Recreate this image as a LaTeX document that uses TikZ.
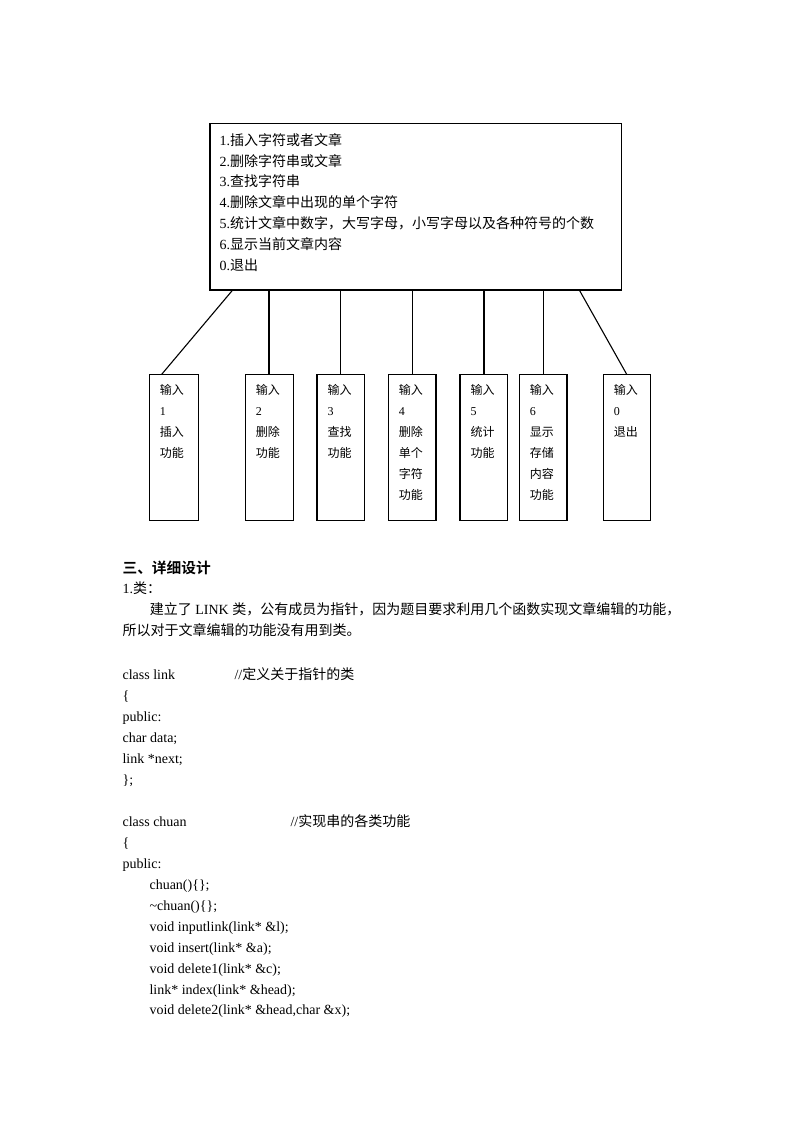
\documentclass[tikz,border=0pt]{standalone}
\usepackage{fontspec}
\setmainfont{Liberation Serif}
\newfontfamily\cjk{Noto Sans CJK SC}[BoldFont={Noto Sans CJK SC Bold}]
\begin{document}
\begin{tikzpicture}[x=1pt,y=-1pt,
  line width=1.1pt,
  menutext/.style={anchor=base west,inner sep=0,font=\fontsize{14}{16}\selectfont},
  boxtext/.style={anchor=base west,inner sep=0,font=\fontsize{12}{14}\selectfont},
  bodytext/.style={anchor=base west,inner sep=0,font=\fontsize{14}{16}\selectfont},
  funcbox/.style={draw,anchor=north west,inner sep=0,outer sep=0,minimum height=146.4pt}]
\fill[white] (0,0) rectangle (800,1132);
\useasboundingbox (0,0) rectangle (800,1132);

% menu box
\node[draw,anchor=north west,inner sep=0,outer sep=0,minimum width=411.7pt,minimum height=166.7pt] (menu) at (210,123.3) {};
\foreach \t [count=\i] in {
  {1.{\cjk 插入字符或者文章}},
  {2.{\cjk 删除字符串或文章}},
  {3.{\cjk 查找字符串}},
  {4.{\cjk 删除文章中出现的单个字符}},
  {5.{\cjk 统计文章中数字，大写字母，小写字母以及各种符号的个数}},
  {6.{\cjk 显示当前文章内容}},
  {0.{\cjk 退出}}}
  \node[menutext] (m\i) at (219,145.3+20.8*\i-20.8) {\t};

% function boxes
\foreach \b/\l/\r in {1/149.3/198.7, 2/245.3/293.7, 3/317/364.3, 4/388.3/436, 5/460/507.7, 6/519.3/567, 7/603.3/650.7}
  \node[funcbox,minimum width={\r-\l}] (b\b) at (\l,374.3) {};

% connectors
\foreach \xt/\xb/\b in {232.7/161.7/1, 269/269/2, 340.7/340.7/3, 412.3/412.3/4, 484/484/5, 543.7/543.7/6, 579.3/626.7/7}
  \draw (\xt,0 |- menu.south) -- (\xb,0 |- b\b.north);

% box texts
\foreach \b/\i/\t in {
  1/1/{\cjk 输入},1/2/1,1/3/{\cjk 插入},1/4/{\cjk 功能},
  2/1/{\cjk 输入},2/2/2,2/3/{\cjk 删除},2/4/{\cjk 功能},
  3/1/{\cjk 输入},3/2/3,3/3/{\cjk 查找},3/4/{\cjk 功能},
  4/1/{\cjk 输入},4/2/4,4/3/{\cjk 删除},4/4/{\cjk 单个},4/5/{\cjk 字符},4/6/{\cjk 功能},
  5/1/{\cjk 输入},5/2/5,5/3/{\cjk 统计},5/4/{\cjk 功能},
  6/1/{\cjk 输入},6/2/6,6/3/{\cjk 显示},6/4/{\cjk 存储},6/5/{\cjk 内容},6/6/{\cjk 功能},
  7/1/{\cjk 输入},7/2/0,7/3/{\cjk 退出}}
  \node[boxtext] (t\b-\i) at ([shift={(10,20.3+21*\i-21)}]b\b.north west) {\t};

% body text
\node[anchor=base west,inner sep=0,font=\fontsize{14.7}{16}\selectfont] (head) at (122,573.3) {{\cjk\bfseries 三、详细设计}};
\node[bodytext] (sub) at (122,593.3) {1.{\cjk 类：}};
\node[bodytext] (p1) at (149.3,614) {{\cjk 建立了} LINK {\cjk 类，公有成员为指针，因为题目要求利用几个函数实现文章编辑的功能，}};
\node[bodytext] (p2) at (122,635) {{\cjk 所以对于文章编辑的功能没有用到类。}};

\node[bodytext] (c1) at (122,679) {class link};
\node[bodytext] (c1c) at (234,679) {//{\cjk 定义关于指针的类}};
\node[bodytext] (c2) at (122,700) {\{};
\node[bodytext] (c3) at (122,721) {public:};
\node[bodytext] (c4) at (122,742) {char data;};
\node[bodytext] (c5) at (122,763) {link *next;};
\node[bodytext] (c6) at (122,784) {\};};
\node[bodytext] (c7) at (122,826) {class chuan};
\node[bodytext] (c7c) at (290,826) {//{\cjk 实现串的各类功能}};
\node[bodytext] (c8) at (122,847) {\{};
\node[bodytext] (c9) at (122,868) {public:};
\node[bodytext] (c10) at (149,889) {chuan()\{\};};
\node[bodytext] (c11) at (149,910) {\textasciitilde chuan()\{\};};
\node[bodytext] (c12) at (149,931) {void inputlink(link* \&l);};
\node[bodytext] (c13) at (149,952) {void insert(link* \&a);};
\node[bodytext] (c14) at (149,973) {void delete1(link* \&c);};
\node[bodytext] (c15) at (149,994) {link* index(link* \&head);};
\node[bodytext] (c16) at (149,1014) {void delete2(link* \&head,char \&x);};
\end{tikzpicture}
\end{document}
